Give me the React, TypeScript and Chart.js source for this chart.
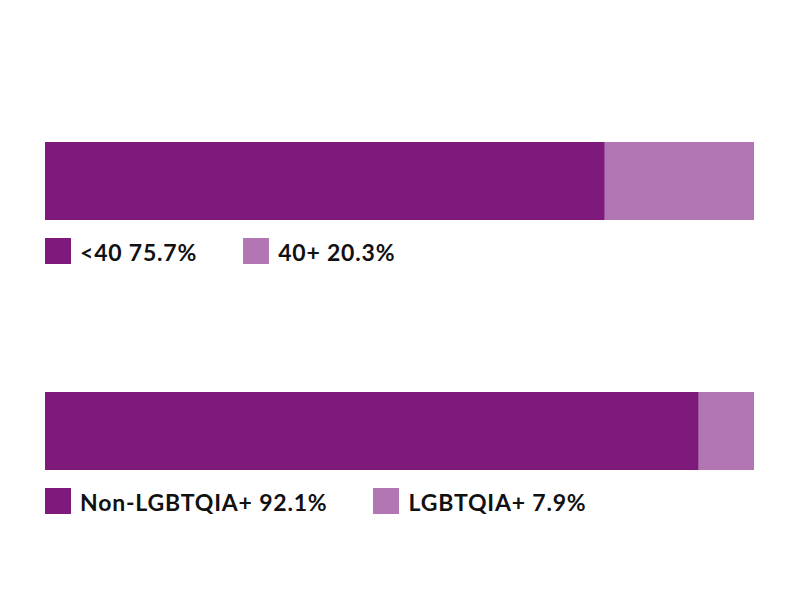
import React, { useEffect, useRef } from "react";
import { Chart, registerables } from "chart.js";

Chart.register(...registerables);

const ageLabels = ["<40", "40+"];
const ageValues = [75.7, 20.3];
const lgbtLabels = ["Non-LGBTQIA+", "LGBTQIA+"];
const lgbtValues = [92.1, 7.9];
const seriesColors = ["#7E1A7C", "#B277B3"];

const FONT = "Lato, 'Open Sans', sans-serif";

function StackBar({ labels, values, top }: { labels: string[]; values: number[]; top: number }) {
  const ref = useRef<HTMLCanvasElement | null>(null);
  useEffect(() => {
    if (!ref.current) return;
    const total = values.reduce((a, b) => a + b, 0);
    const chart = new Chart(ref.current, {
      type: "bar",
      data: {
        labels: [""],
        datasets: values.map((v, i) => ({
          label: labels[i],
          data: [v],
          backgroundColor: seriesColors[i],
          borderWidth: 0,
          barPercentage: 1,
          categoryPercentage: 1,
        })),
      },
      options: {
        indexAxis: "y",
        animation: false,
        responsive: false,
        maintainAspectRatio: false,
        layout: { padding: 0 },
        plugins: { legend: { display: false }, tooltip: { enabled: false } },
        scales: {
          x: { stacked: true, min: 0, max: total, display: false },
          y: { stacked: true, display: false },
        },
      },
    });
    return () => chart.destroy();
  }, [labels, values]);

  return (
    <div style={{ position: "absolute", left: 0, top, width: 800 }}>
      <canvas
        ref={ref}
        width={709}
        height={78}
        style={{ position: "absolute", left: 45, top: 0, width: 709, height: 78 }}
      />
      <div
        style={{
          position: "absolute",
          left: 45,
          top: 96,
          display: "flex",
          alignItems: "center",
          fontFamily: FONT,
          fontWeight: 700,
          fontSize: 23,
          letterSpacing: 0.8,
          color: "#111",
          whiteSpace: "nowrap",
        }}
      >
        {labels.map((l, i) => (
          <div key={l} style={{ display: "flex", alignItems: "center", marginRight: 46 }}>
            <span
              style={{
                display: "inline-block",
                width: 26,
                height: 26,
                background: seriesColors[i],
                marginRight: 9,
              }}
            />
            <span style={{ lineHeight: "26px", position: "relative", top: 1 }}>
              {l} {values[i]}%
            </span>
          </div>
        ))}
      </div>
    </div>
  );
}

export default function App() {
  return (
    <div style={{ position: "absolute", left: 0, top: 0, width: 800, height: 600, background: "#fff" }}>
      <StackBar labels={ageLabels} values={ageValues} top={142} />
      <StackBar labels={lgbtLabels} values={lgbtValues} top={392} />
    </div>
  );
}
